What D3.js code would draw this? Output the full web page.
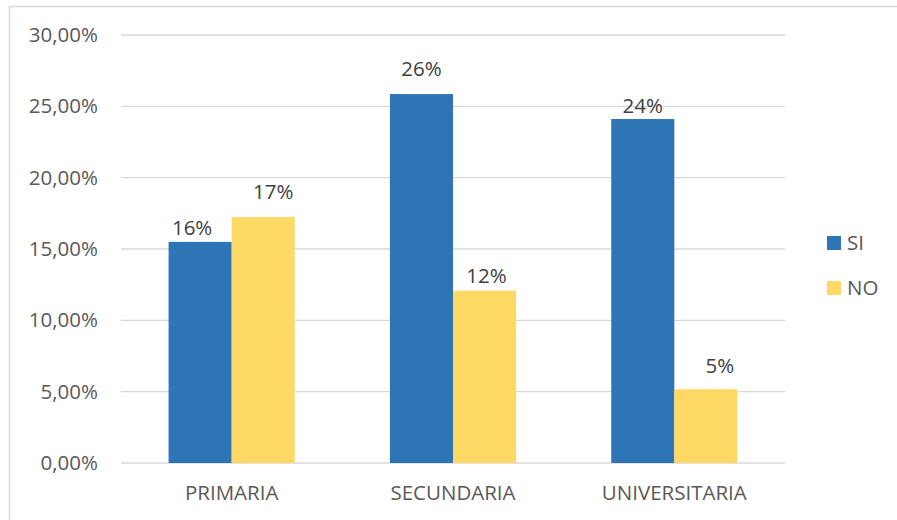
<!DOCTYPE html>
<html>
<head>
<meta charset="utf-8">
<script src="https://cdn.jsdelivr.net/npm/d3@7/dist/d3.min.js"></script>
<style>
  body { margin: 0; background: #fff; }
  svg text { font-family: "Open Sans", sans-serif; fill: #595959; }
</style>
</head>
<body>
<div id="chart"></div>
<script>
// data
const categories = ["PRIMARIA", "SECUNDARIA", "UNIVERSITARIA"];
const seriesNames = ["SI", "NO"];
const siValues = [15.5, 25.86, 24.11];
const noValues = [17.24, 12.08, 5.17];
const tickValues = [0, 5, 10, 15, 20, 25, 30];

// hand-placed data label nudges (dx, gap above bar), as in the original
const labelNudge = {
  SI: [[-8, 7], [0, 18], [0, 6]],
  NO: [[10, 18], [2, 8], [14, 16]]
};

const colors = { SI: "#2E75B6", NO: "#FFD966" };

const width = 897, height = 520;
const plot = { left: 121, right: 785, top: 35, bottom: 463 };

const svg = d3.select("#chart").append("svg")
  .attr("width", width)
  .attr("height", height);

// chart border
svg.append("rect")
  .attr("x", 9.5).attr("y", 6.5)
  .attr("width", 900).attr("height", 530)
  .attr("fill", "#fff")
  .attr("stroke", "#D9D9D9")
  .attr("stroke-width", 1.5);

const x0 = d3.scaleBand()
  .domain(categories)
  .range([plot.left, plot.right])
  .paddingInner(0.43)
  .paddingOuter(0.215);

const x1 = d3.scaleBand()
  .domain(seriesNames)
  .range([0, x0.bandwidth()]);

const y = d3.scaleLinear()
  .domain([0, 30])
  .range([plot.bottom, plot.top]);

// gridlines
svg.append("g")
  .selectAll("line")
  .data(tickValues)
  .join("line")
  .attr("x1", plot.left).attr("x2", plot.right)
  .attr("y1", d => y(d)).attr("y2", d => y(d))
  .attr("stroke", "#D9D9D9")
  .attr("stroke-width", 1.3);

// y axis labels
const yAxis = d3.axisLeft(y)
  .tickValues(tickValues)
  .tickSize(0)
  .tickPadding(0)
  .tickFormat(d => d.toFixed(2).replace(".", ",") + "%");

svg.append("g")
  .attr("transform", "translate(98,0)")
  .call(yAxis)
  .call(g => g.select(".domain").remove())
  .selectAll("text")
  .attr("font-size", 20.5)
  .attr("fill", "#595959");

// x axis labels
const xAxis = d3.axisBottom(x0).tickSize(0).tickPadding(0);
svg.append("g")
  .attr("transform", "translate(0,485)")
  .call(xAxis)
  .call(g => g.select(".domain").remove())
  .selectAll("text")
  .attr("font-size", 20.5)
  .attr("fill", "#595959");

const rows = categories.map((c, i) => ({
  cat: c,
  vals: [
    { key: "SI", v: siValues[i], nudge: labelNudge.SI[i] },
    { key: "NO", v: noValues[i], nudge: labelNudge.NO[i] }
  ]
}));

const groups = svg.append("g")
  .selectAll("g")
  .data(rows)
  .join("g")
  .attr("transform", d => "translate(" + x0(d.cat) + ",0)");

groups.selectAll("rect")
  .data(d => d.vals)
  .join("rect")
  .attr("x", d => x1(d.key))
  .attr("y", d => y(d.v))
  .attr("width", x1.bandwidth())
  .attr("height", d => y(0) - y(d.v))
  .attr("fill", d => colors[d.key]);

groups.selectAll("text")
  .data(d => d.vals)
  .join("text")
  .attr("x", d => x1(d.key) + x1.bandwidth() / 2 + d.nudge[0])
  .attr("y", d => y(d.v) - d.nudge[1])
  .attr("text-anchor", "middle")
  .attr("font-size", 20.5)
  .style("fill", "#404040")
  .text(d => Math.round(d.v) + "%");

// legend
const legend = svg.append("g")
  .selectAll("g")
  .data(seriesNames)
  .join("g")
  .attr("transform", (d, i) => "translate(827," + (236 + i * 45) + ")");

legend.append("rect")
  .attr("width", 14).attr("height", 14)
  .attr("fill", d => colors[d]);

legend.append("text")
  .attr("x", 20).attr("y", 7)
  .attr("dy", "0.35em")
  .attr("font-size", 20.5)
  .text(d => d);
</script>
</body>
</html>
